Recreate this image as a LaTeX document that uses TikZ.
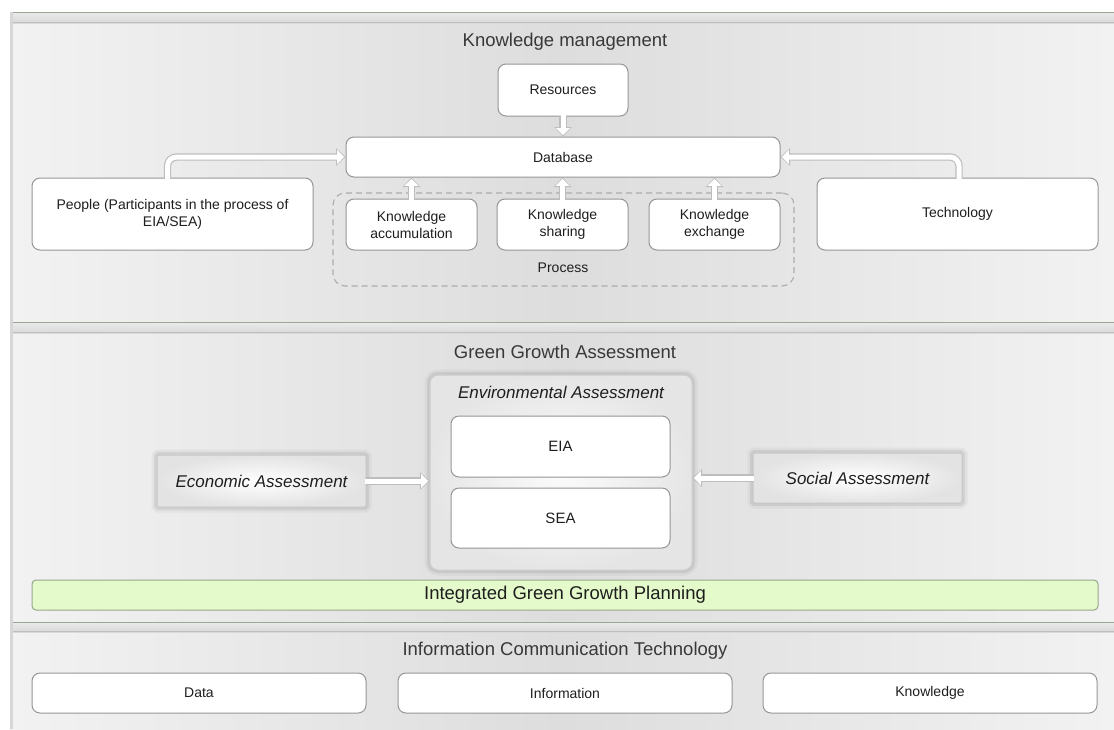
\documentclass[tikz,border=0pt]{standalone}
\usepackage{fontspec}
\setmainfont{Liberation Sans}
\usetikzlibrary{arrows.meta,calc}
\definecolor{stripline}{RGB}{156,166,150}
\definecolor{panelA}{RGB}{242,242,242}
\definecolor{panelB}{RGB}{221,221,221}
\definecolor{boxline}{RGB}{150,150,150}
\definecolor{greenfill}{RGB}{229,250,203}
\definecolor{greenline}{RGB}{150,166,140}
\definecolor{txt}{RGB}{30,30,30}
\begin{document}
\begin{tikzpicture}[x=1pt,y=-1pt,
  panelbody/.style={left color=panelA, right color=panelA, middle color=panelB},
  box/.style={draw=boxline, line width=1pt, fill=white, rounded corners=8pt,
    inner sep=2pt, text=txt, align=center, font=\fontsize{14}{17}\selectfont},
  procbox/.style={draw=gray!65, line width=1.1pt, dashed, dash pattern=on 6pt off 4pt,
    rounded corners=12pt, inner sep=0pt},
  title/.style={text=black!78, font=\fontsize{18.5}{22}\selectfont, inner sep=1pt},
  lbl/.style={text=txt, font=\fontsize{14}{17}\selectfont, inner sep=1pt},
  ital/.style={text=txt, font=\fontsize{17}{20}\selectfont\itshape, inner sep=1pt},
  halo/.style={preaction={draw=black, draw opacity=0.04, line width=11pt},
    preaction={draw=black, draw opacity=0.07, line width=6pt}},
  envbox/.style={halo, draw=gray!40, line width=1pt, rounded corners=8pt,
    inner color=gray!3, outer color=gray!20},
  sidebox/.style={halo, draw=gray!45, line width=1pt, rounded corners=1.5pt,
    inner color=white, outer color=gray!22, text=txt,
    font=\fontsize{17}{20}\selectfont\itshape},
  greenbar/.style={draw=greenline, fill=greenfill, line width=1pt, rounded corners=4pt,
    text=txt, font=\fontsize{18.5}{22}\selectfont},
  bout/.style={draw=gray!52, line width=7.4pt, -{Triangle[width=17pt,length=9.5pt]},
    shorten <=-1pt},
  bin/.style={draw=white, line width=5pt, -{Triangle[width=13.4pt,length=7pt]},
    shorten >=1.4pt, shorten <=-1.6pt},
]
\useasboundingbox (0,0) rectangle (1114,729);
\fill[white] (0,0) rectangle (1114,729);

% panels
\shade[panelbody] (10,23) rectangle (1114,322);
\shade[panelbody] (10,333) rectangle (1114,622);
\shade[panelbody] (10,632) rectangle (1114,729);
\foreach \a/\b in {12/23,322/333,622/632}{
  \shade[top color=gray!16, bottom color=gray!30] (10,\a) rectangle (1114,\b);
  \draw[stripline, line width=1pt] (10,\a+0.5) -- (1114,\a+0.5);
  \draw[gray!50, line width=1pt] (10,\b-0.5) -- (1114,\b-0.5);
}
\fill[gray!32] (10,12) rectangle (13,729);

% ---------- Knowledge management ----------
\node[title] (t1) at (565,42) {Knowledge management};
\node[procbox, minimum width=461pt, minimum height=93pt] (proc) at (563.5,239.5) {};
\node[lbl] (proclbl) at (563,268) {Process};
\node[box, minimum width=130pt, minimum height=52pt] (res) at (563,90) {Resources};
\node[box, minimum width=434pt, minimum height=40pt] (db) at (563,157) {Database};
\node[box, minimum width=281pt, minimum height=72pt] (people) at (172.5,214)
  {People (Participants in the process of\\EIA/SEA)};
\node[box, minimum width=281pt, minimum height=72pt] (tech) at (957.5,214) {Technology};
\node[box, minimum width=131pt, minimum height=51pt] (ka) at (411.5,224.5) {Knowledge\\accumulation};
\node[box, minimum width=131pt, minimum height=51pt] (ks) at (562.5,224.5) {Knowledge\\sharing};
\node[box, minimum width=131pt, minimum height=51pt] (ke) at (714.5,224.5) {Knowledge\\exchange};

\draw[bout] (res.south) -- (db.north);
\draw[bin] (res.south) -- (db.north);
\draw[bout, rounded corners=9pt] ($(people.north)+(-5,0)$) |- (db.west);
\draw[bin, rounded corners=9pt] ($(people.north)+(-5,0)$) |- (db.west);
\draw[bout, rounded corners=9pt] ($(tech.north)+(1.5,0)$) |- (db.east);
\draw[bin, rounded corners=9pt] ($(tech.north)+(1.5,0)$) |- (db.east);
\foreach \n in {ka,ks,ke}{
  \draw[bout] (\n.north) -- (\n.north |- db.south);
  \draw[bin] (\n.north) -- (\n.north |- db.south);
}

% ---------- Green Growth Assessment ----------
\node[title] (t2) at (565,352) {Green Growth Assessment};
\node[envbox, minimum width=262pt, minimum height=195pt] (env) at (561,472.5) {};
\node[ital] (envlbl) at (561,392) {Environmental Assessment};
\node[box, minimum width=219pt, minimum height=61pt, font=\fontsize{15}{18}\selectfont] (eia) at (560.5,446.5) {EIA};
\node[box, minimum width=219pt, minimum height=60pt, font=\fontsize{15}{18}\selectfont] (sea) at (560.5,518) {SEA};
\node[sidebox, minimum width=209pt, minimum height=52pt] (econ) at (261.5,481) {Economic Assessment};
\node[sidebox, minimum width=209pt, minimum height=50pt] (soc) at (857.5,478) {Social Assessment};
\draw[bout] (econ.east) -- (econ.east -| env.west);
\draw[bin] (econ.east) -- (econ.east -| env.west);
\draw[bout] (soc.west) -- (soc.west -| env.east);
\draw[bin] (soc.west) -- (soc.west -| env.east);
\node[greenbar, minimum width=1066pt, minimum height=30pt] (igg) at (565,595) {Integrated Green Growth Planning};

% ---------- Information Communication Technology ----------
\node[title] (t3) at (565,651) {Information Communication Technology};
\node[box, minimum width=334pt, minimum height=40pt] (data) at (199,693) {Data};
\node[box, minimum width=334pt, minimum height=40pt] (info) at (565,693) {Information};
\node[box, minimum width=334pt, minimum height=40pt] (know) at (930,693) {Knowledge};
\end{tikzpicture}
\end{document}
